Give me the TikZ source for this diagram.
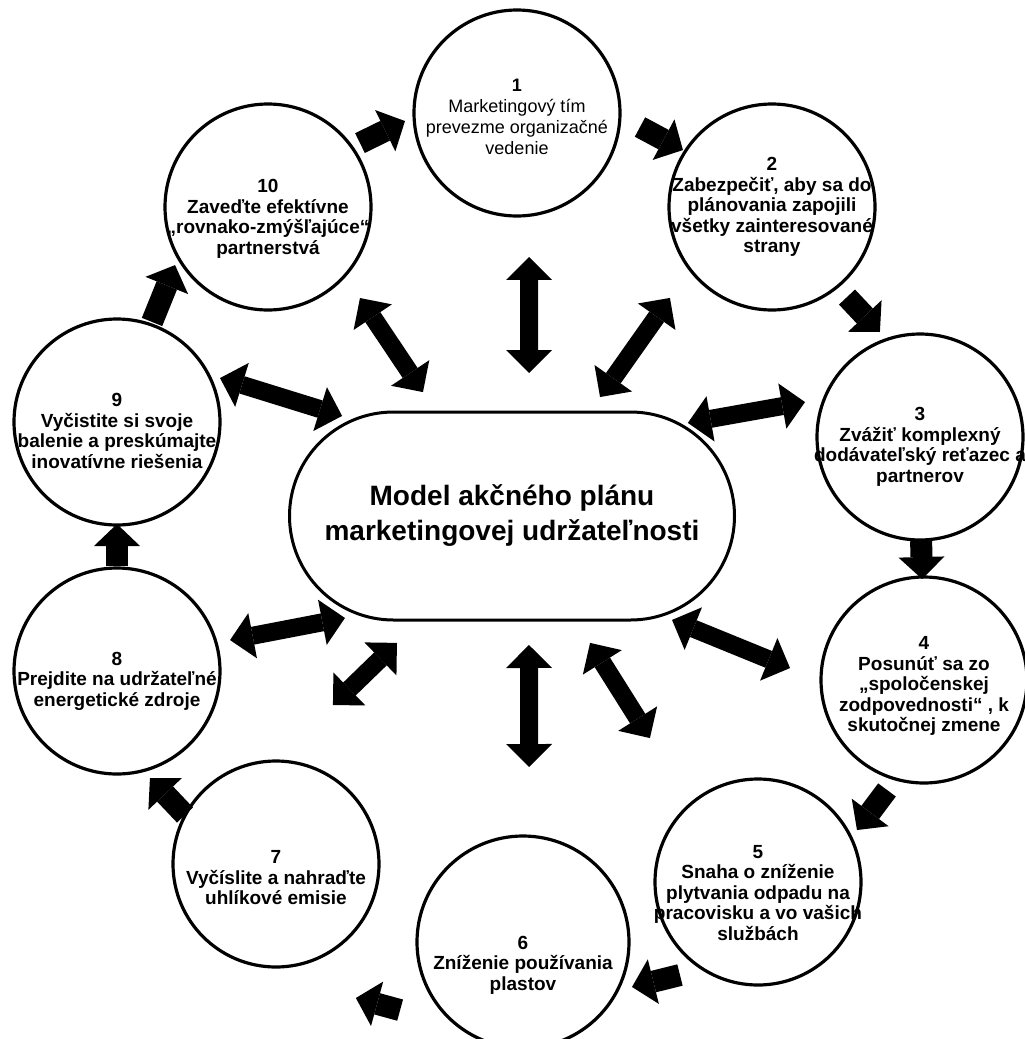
\documentclass[tikz,border=0pt]{standalone}
\usepackage{fontspec}
\setmainfont{Liberation Sans}
\usetikzlibrary{arrows.meta,calc}
\begin{document}
\begin{tikzpicture}[x=1pt,y=-1pt,
  circ/.style={circle,draw=black,line width=3.2pt,minimum size=206pt,inner sep=0pt,outer sep=0pt,fill=white},
  txt/.style={align=center,font=\bfseries\fontsize{19}{20.5}\selectfont,inner sep=0pt},
  txtreg/.style={align=center,font=\fontsize{18}{21}\selectfont,inner sep=0pt},
  ring/.style={line width=22pt,-{Triangle[width=46pt,length=22pt,line width=0pt]}},
  dbl/.style={line width=18pt,{Triangle[width=46pt,length=23pt,line width=0pt]}-{Triangle[width=46pt,length=23pt,line width=0pt]}},
]
\useasboundingbox[fill=white] (0,0) rectangle (1025,1039);

% circles
\node[circ] (n1) at (517,113) {};
\node[circ] (n2) at (772,207) {};
\node[circ] (n3) at (920,437) {};
\node[circ] (n4) at (924,680) {};
\node[circ] (n5) at (758,882) {};
\node[circ,minimum size=212pt] (n6) at (523,942) {};
\node[circ] (n7) at (276,864) {};
\node[circ] (n8) at (117,671) {};
\node[circ] (n9) at (117,422) {};
\node[circ] (n10) at (268,207) {};

% texts
\node[txtreg] (t1) at ($(n1)+(0,4)$) {\textbf{1}\\Marketingový tím\\prevezme organizačné\\vedenie};
\node[txt] (t2) at ($(n2)+(0,0)$) {2\\Zabezpečiť, aby sa do\\plánovania zapojili\\všetky zainteresované\\strany};
\node[txt] (t3) at ($(n3)+(0,10)$) {3\\Zvážiť komplexný\\dodávateľský reťazec a\\partnerov};
\node[txt] (t4) at ($(n4)+(0,6)$) {4\\Posunúť sa zo\\„spoločenskej\\zodpovednosti“ , k\\skutočnej zmene};
\node[txt] (t5) at ($(n5)+(0,11)$) {5\\Snaha o zníženie\\plytvania odpadu na\\pracovisku a vo vašich\\službách};
\node[txt] (t6) at ($(n6)+(0,23)$) {6\\Zníženie používania\\plastov};
\node[txt] (t7) at ($(n7)+(0,14)$) {7\\Vyčíslite a nahraďte\\uhlíkové emisie};
\node[txt] (t8) at ($(n8)+(0,10)$) {8\\Prejdite na udržateľné\\energetické zdroje};
\node[txt] (t9) at ($(n9)+(0,9)$) {9\\Vyčistite si svoje\\balenie a preskúmajte\\inovatívne riešenia};
\node[txt] (t10) at ($(n10)+(0,12)$) {10\\Zaveďte efektívne\\„rovnako-zmýšľajúce“\\partnerstvá};

% centre
\node[draw=black,line width=3pt,rounded corners=104pt,minimum width=445pt,minimum height=208pt,inner sep=0pt,outer sep=0pt,align=center,font=\bfseries\fontsize{28}{35}\selectfont] (c) at (512,516) {Model akčného plánu\\marketingovej udržateľnosti};

% ring arrows
\draw[ring] ($(n10)+(-34.8:112)$) -- ($(n1)+(175.9:112.3)$);
\draw[ring] ($(n1)+(6.5:123.8)$) -- ($(n2)+(-147.4:105.7)$);
\draw[ring] ($(n2)+(50.2:117.2)$) -- ($(n3)+(-110.9:112.4)$);
\draw[ring] ($(n3)+(89.4:104)$) -- ($(n4)+(-91.1:101)$);
\draw[ring] ($(n4)+(108.6:116)$) -- ($(n5)+(-27.7:111.8)$);
\draw[ring] ($(n5)+(130:121.4)$) -- ($(n6)+(22.4:117.9)$);
\draw[ring] ($(n6)+(151:140.5)$) -- ($(n7)+(59.2:156)$);
\draw[ring] ($(n7)+(-151.7:103.4)$) -- ($(n8)+(72.9:112)$);
\draw[ring] ($(n8)+(-90:105)$) -- ($(n9)+(90:102)$);
\draw[ring] ($(n9)+(-70.7:106)$) -- ($(n10)+(148:109.6)$);

% double arrows
\draw[dbl] ($(n1)+(85.2:144.5)$) -- ($(c)+(-83.2:144)$);
\draw[dbl] ($(n10)+(44.7:129.4)$) -- ($(c)+(-125.7:152.6)$);
\draw[dbl] ($(n2)+(138.3:136.7)$) -- ($(c)+(-53.5:148)$);
\draw[dbl] ($(n3)+(-163.1:120.2)$) -- ($(c)+(-27.9:199)$);
\draw[dbl] ($(n9)+(-23.1:112)$) -- ($(c)+(-149.5:197.2)$);
\draw[dbl] ($(n8)+(-15.3:117.2)$) -- ($(c)+(148.6:195.7)$);
\draw[dbl] ($(n7)+(-70.3:168.9)$) -- ($(c)+(132.2:171.3)$);
\draw[dbl] ($(n6)+(-88:175.1)$) -- ($(c)+(82.5:130.1)$);
\draw[dbl] ($(n5)+(-126.9:180)$) -- ($(c)+(58.4:149)$);
\draw[dbl] ($(n4)+(-174.9:134.5)$) -- ($(c)+(33:190.8)$);
\end{tikzpicture}
\end{document}
